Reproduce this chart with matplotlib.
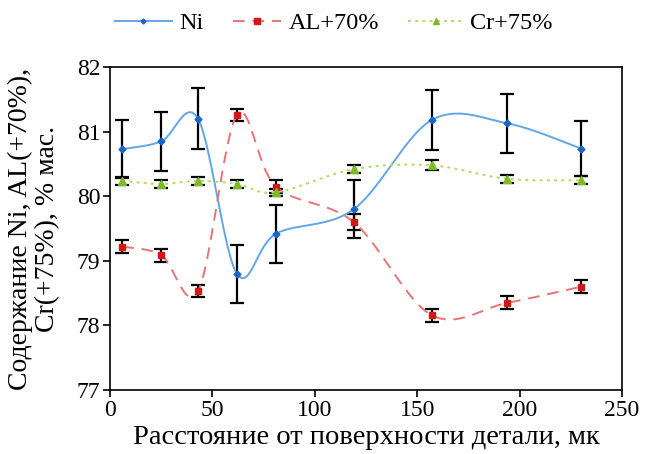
import numpy as np
import matplotlib
matplotlib.use('Agg')
import matplotlib.pyplot as plt

# data
depth = [6, 25, 43, 62, 81, 119, 157, 194, 230]
ni = [80.73, 80.85, 81.20, 78.80, 79.42, 79.80, 81.18, 81.13, 80.74]
ni_err = [0.45, 0.46, 0.47, 0.45, 0.45, 0.45, 0.46, 0.46, 0.43]
al = [79.22, 79.09, 78.53, 81.26, 80.15, 79.60, 78.16, 78.35, 78.60]
al_err = [0.10, 0.10, 0.09, 0.10, 0.10, 0.12, 0.10, 0.10, 0.10]
cr = [80.24, 80.19, 80.24, 80.19, 80.06, 80.42, 80.48, 80.27, 80.25]
cr_err = [0.06, 0.06, 0.06, 0.06, 0.06, 0.06, 0.08, 0.06, 0.06]
names = ['Ni', 'AL+70%', 'Cr+75%']


def smooth(x, y, n=30):
    """excel-like smoothed line (bezier, control points from neighbours)"""
    x = np.asarray(x, float)
    y = np.asarray(y, float)
    px = np.concatenate([[x[0]], x, [x[-1]]])
    py = np.concatenate([[y[0]], y, [y[-1]]])
    xs, ys = [], []
    t = np.linspace(0, 1, n)
    for i in range(len(x) - 1):
        p0 = np.array([x[i], y[i]])
        p3 = np.array([x[i + 1], y[i + 1]])
        p1 = p0 + (np.array([px[i + 2], py[i + 2]]) - np.array([px[i], py[i]])) / 6
        p2 = p3 - (np.array([px[i + 3], py[i + 3]]) - np.array([px[i + 1], py[i + 1]])) / 6
        b = ((1 - t) ** 3)[:, None] * p0 + (3 * (1 - t) ** 2 * t)[:, None] * p1 \
            + (3 * (1 - t) * t ** 2)[:, None] * p2 + (t ** 3)[:, None] * p3
        xs.extend(b[:, 0])
        ys.extend(b[:, 1])
    return xs, ys


plt.rcParams['font.family'] = ['Liberation Serif', 'DejaVu Serif']
plt.rcParams['font.size'] = 17

fig = plt.figure(figsize=(6.45, 4.54), dpi=100)
ax = fig.add_axes([0.1705, 0.141, 0.794, 0.711])

series = [
    (ni, ni_err, '#62A6E6', '#1A66C8', '-', 'D', 3.5),
    (al, al_err, '#EA7373', '#D01818', (0, (6, 4)), 's', 5),
    (cr, cr_err, '#B3DB62', '#7DBA28', (0, (1.5, 2.2)), '^', 5.5),
]

handles = []
for vals, err, lc, mc, ls, mk, ms in series:
    ax.errorbar(depth, vals, yerr=err, fmt='none', ecolor='black',
                elinewidth=1.6, capsize=4.8, capthick=1.6, zorder=2)
    sx, sy = smooth(depth, vals)
    ax.plot(sx, sy, color=lc, linestyle=ls, linewidth=1.4, zorder=3)
    ax.plot(depth, vals, linestyle='none', marker=mk, markersize=ms,
            color=mc, zorder=4)
    h, = ax.plot([], [], color=lc, linestyle=ls, linewidth=1.4,
                 marker=mk, markersize=ms - 1, markerfacecolor=mc,
                 markeredgecolor=mc)
    handles.append(h)

ax.set_xlim(0, 250)
ax.set_ylim(77, 82)
ax.set_xticks([0, 50, 100, 150, 200, 250])
ax.set_yticks([77, 78, 79, 80, 81, 82])
ax.tick_params(direction='out', length=5, width=1.2, pad=2)
for s in ax.spines.values():
    s.set_linewidth(1.2)

ax.set_xlabel('Расстояние от поверхности детали, мк', fontsize=20.5, labelpad=3)
ax.set_ylabel('Содержание Ni, AL(+70%),\nCr(+75%), % мас.', fontsize=20,
              linespacing=1.12, va='center')
ax.yaxis.set_label_coords(-0.148, 0.5)

# legend entries placed one by one, like the original
leg_x = [0.178, 0.361, 0.633]
leg_len = [2.35, 2.0, 2.25]
for h, name, lx, hl in zip(handles, names, leg_x, leg_len):
    fig.legend(handles=[h], labels=[name], loc='center left',
               bbox_to_anchor=(lx, 0.949), frameon=False, fontsize=17.5,
               borderpad=0, borderaxespad=0, handlelength=hl,
               handletextpad=0.3)

fig.savefig('out.png', dpi=100)
